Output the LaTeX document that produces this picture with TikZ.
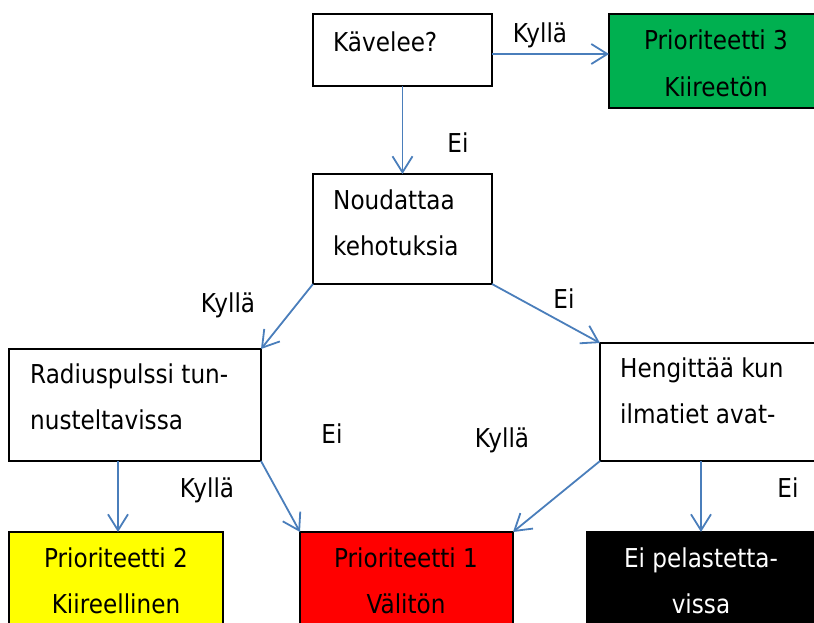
\documentclass[tikz,border=0pt]{standalone}
\usepackage{fontspec}
\setmainfont[FakeStretch=0.89]{DejaVu Sans}
\usetikzlibrary{arrows.meta}
\definecolor{arrblue}{HTML}{4A7EBB}
\definecolor{prgreen}{HTML}{00B050}
\definecolor{pryellow}{HTML}{FFFF00}
\definecolor{prred}{HTML}{FF0000}
\tikzset{
  box/.style={draw=black, line width=2.5pt, anchor=north west, inner sep=0pt, outer sep=0pt},
  arr/.style={draw=arrblue, line width=1.8pt, -{Straight Barb[length=16pt,width=20pt,line width=1.8pt]}},
  txt/.style={inner sep=0pt, font=\fontsize{26}{46.5}\selectfont},
  ltxt/.style={txt, anchor=base west, align=left},
  ctxt/.style={txt, anchor=base, align=center},
}
\begin{document}
\begin{tikzpicture}[x=1pt, y=-1pt]
\useasboundingbox (0,0) rectangle (814,622);
\clip (0,0) rectangle (814,622);
% boxes
\node[box, minimum width=179pt, minimum height=72pt] (kav) at (313,14) {};
\node[box, fill=prgreen, minimum width=214pt, minimum height=94pt] (green) at (609,14) {};
\node[box, minimum width=179pt, minimum height=110pt] (noud) at (313,174) {};
\node[box, minimum width=252pt, minimum height=112pt] (radius) at (9,349) {};
\node[box, minimum width=230pt, minimum height=118pt] (heng) at (600,343) {};
\node[box, fill=pryellow, minimum width=214pt, minimum height=110pt] (yellowb) at (9,532) {};
\node[box, fill=prred, minimum width=213pt, minimum height=110pt] (redb) at (300,532) {};
\node[box, fill=black, minimum width=228pt, minimum height=110pt] (blackb) at (587,532) {};
% box texts (anchor = baseline of last line)
\node[ltxt] (tkav) at (333,51) {Kävelee?};
\node[ctxt] (tgreen) at (716,96) {Prioriteetti 3\\Kiireetön};
\node[ltxt] (tnoud) at (333,255.5) {Noudattaa\\kehotuksia};
\node[ltxt] (tradius) at (30,429.5) {Radiuspulssi tun-\\nusteltavissa};
\node[ltxt] (theng) at (620,423.5) {Hengittää kun\\ilmatiet avat-};
\node[ctxt] (tyellow) at (116,613.5) {Prioriteetti 2\\Kiireellinen};
\node[ctxt] (tred) at (406,613.5) {Prioriteetti 1\\Välitön};
\node[ctxt, text=white] (tblack) at (701,613.5) {Ei pelastetta-\\vissa};
% connectors
\draw[arr] ([yshift=-4pt]kav.east) -- ([yshift=-4pt]kav.east -| green.west);
\draw[arr] (kav.south) -- (noud.north);
\draw[arr] (noud.south west) -- (radius.north east);
\draw[arr] (noud.south east) -- (heng.north west);
\draw[arr] ([xshift=-17pt]radius.south) -- ([xshift=-17pt]radius.south |- yellowb.north);
\draw[arr] (radius.south east) -- (redb.north west);
\draw[arr] (heng.south west) -- (redb.north east);
\draw[arr] (blackb.north |- heng.south) -- (blackb.north);
% connector labels
\node[ctxt] (l1) at (540,42) {Kyllä};
\node[ctxt] (l2) at (458,152) {Ei};
\node[ctxt] (l3) at (228,312) {Kyllä};
\node[ctxt] (l4) at (564,308) {Ei};
\node[ctxt] (l5) at (332,443) {Ei};
\node[ctxt] (l6) at (502,447) {Kyllä};
\node[ctxt] (l7) at (207,497) {Kyllä};
\node[ctxt] (l8) at (788,497) {Ei};
\end{tikzpicture}
\end{document}
